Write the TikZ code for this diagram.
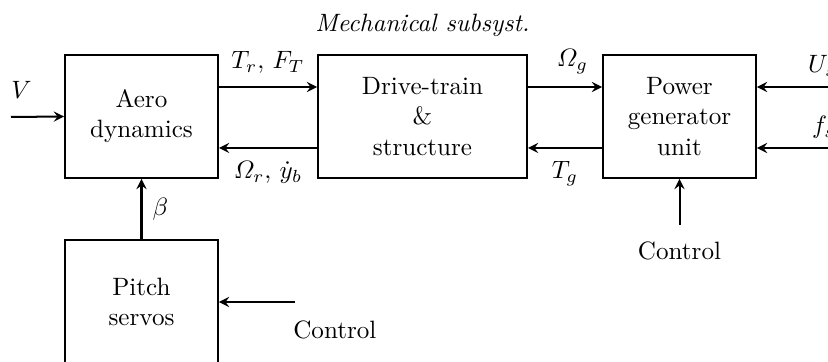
\documentclass[tikz,border=0pt]{standalone}
\usepackage{amsmath}
\begin{document}
\begin{tikzpicture}[x=0.014cm,y=-0.014cm,thick,>=stealth,
  blk/.style={draw,align=center,minimum width=2.142cm,minimum height=1.722cm,inner sep=2pt},
  sig/.style={inner sep=2pt}]
\useasboundingbox (0,0) rectangle (828,362);
% blocks
\node[blk] (aero) at (141.5,116.5) {Aero\\dynamics};
\node[blk,minimum width=2.926cm] (drive) at (422.5,116.5) {Drive-train\\\&\\structure};
\node[blk] (power) at (679.5,116.5) {Power\\generator\\unit};
\node[blk] (pitch) at (141.5,301.5) {Pitch\\servos};
\node (mech) at (422.5,25) {\textit{Mechanical subsyst.}};

% free ends
\coordinate (vin) at (11,117);
\coordinate (usin) at (828,87);
\coordinate (fsin) at (828,148);
\coordinate (pgctl) at (679.5,225);
\coordinate (psctl) at (295,302);

% signals
\draw[->] (vin) -- (aero.west) node[sig,pos=0.2,above=5pt] {$V$};
\draw[->] ([yshift=0.413cm]aero.east) -- ([yshift=0.413cm]drive.west)
  node[sig,midway,above=3pt] {$T_r,\,F_T$};
\draw[->] ([yshift=-0.441cm]drive.west) -- ([yshift=-0.441cm]aero.east)
  node[sig,midway,below=3pt] {$\varOmega_r,\,\dot{y}_b$};
\draw[->] ([yshift=0.413cm]drive.east) -- ([yshift=0.413cm]power.west)
  node[sig,pos=0.6,above=3pt] {$\varOmega_g$};
\draw[->] ([yshift=-0.441cm]power.west) -- ([yshift=-0.441cm]drive.east)
  node[sig,pos=0.5,below=3pt] {$T_g$};
\draw[->] (usin) -- (usin -| power.east);
\draw[->] (fsin) -- (fsin -| power.east);
\node[sig,anchor=west] (us) at (802,66) {$U_s$};
\node[sig,anchor=west] (fs) at (806,127) {$f_s$};
\draw[->] (pgctl) -- (power.south);
\node[below=3pt] (pgc) at (pgctl) {Control};
\draw[->] (pitch.north) -- (aero.south) node[sig,midway,right=2pt] {$\beta$};
\draw[->] (psctl) -- (psctl -| pitch.east);
\node[anchor=north west] (psc) at (284,311) {Control};
\end{tikzpicture}
\end{document}
